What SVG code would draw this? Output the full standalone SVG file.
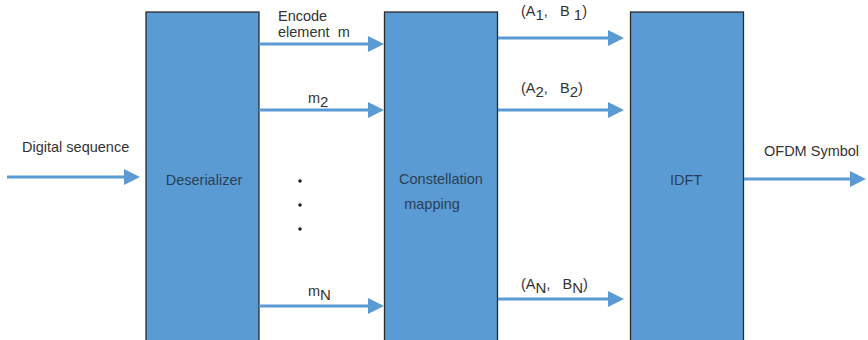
<svg xmlns="http://www.w3.org/2000/svg" width="868" height="340" viewBox="0 0 868 340">
<defs>
<style>
.box{fill:#5b9bd3;stroke:#2b2b2b;stroke-width:1.3}
.t{font-family:"Liberation Sans",Arial,sans-serif;font-size:14.5px;fill:#333;white-space:pre}
.b{font-family:"Liberation Sans",Arial,sans-serif;font-size:14.5px;fill:#2a3f55}
.ln{stroke:#5b9bd3;stroke-width:3;fill:none}
.hd{fill:#5b9bd3}
.s{font-size:15px}
</style>
</defs>
<rect width="868" height="340" fill="#fff"/>
<g id="deserializer">
<rect class="box" x="146" y="12" width="113" height="340"/>
<text class="b" x="204" y="185" text-anchor="middle">Deserializer</text>
</g>
<g id="constellation">
<rect class="box" x="384.5" y="12" width="113" height="340"/>
<text class="b" x="441" y="184" text-anchor="middle">Constellation</text>
<text class="b" x="432" y="209" text-anchor="middle">mapping</text>
</g>
<g id="idft">
<rect class="box" x="630.5" y="12" width="113" height="340"/>
<text class="b" x="686" y="185" text-anchor="middle">IDFT</text>
</g>
<g id="connectors">
<line class="ln" x1="7" y1="177" x2="126" y2="177"/><polygon class="hd" points="124,169 140,177 124,185"/>
<line class="ln" x1="259" y1="44" x2="370" y2="44"/><polygon class="hd" points="368,36 384,44 368,52"/>
<line class="ln" x1="259" y1="110" x2="370" y2="110"/><polygon class="hd" points="368,102 384,110 368,118"/>
<line class="ln" x1="259" y1="306" x2="370" y2="306"/><polygon class="hd" points="368,298 384,306 368,314"/>
<line class="ln" x1="498" y1="38" x2="610" y2="38"/><polygon class="hd" points="608,30 624,38 608,46"/>
<line class="ln" x1="498" y1="110" x2="610" y2="110"/><polygon class="hd" points="608,102 624,110 608,118"/>
<line class="ln" x1="498" y1="299" x2="610" y2="299"/><polygon class="hd" points="608,291 624,299 608,307"/>
<line class="ln" x1="744" y1="179" x2="852" y2="179"/><polygon class="hd" points="850,171 866,179 850,187"/>
</g>
<g id="labels">
<text class="t" x="22" y="152">Digital sequence</text>
<text class="t" x="764" y="156">OFDM Symbol</text>
<text class="t" x="278" y="21">Encode</text>
<text class="t" x="278" y="37">element  m</text>
<text class="t" x="308" y="103">m<tspan class="s" dy="4">2</tspan></text>
<text class="t" x="308" y="296">m<tspan class="s" dy="4">N</tspan></text>
<text class="t" x="521" y="16">(A<tspan class="s" dy="4">1</tspan><tspan dy="-4">,   B</tspan><tspan class="s" dy="4"> 1</tspan><tspan dy="-4">)</tspan></text>
<text class="t" x="521" y="93">(A<tspan class="s" dy="4">2</tspan><tspan dy="-4">,   B</tspan><tspan class="s" dy="4">2</tspan><tspan dy="-4">)</tspan></text>
<text class="t" x="521" y="289">(A<tspan class="s" dy="4">N</tspan><tspan dy="-4">,   B</tspan><tspan class="s" dy="4">N</tspan><tspan dy="-4">)</tspan></text>
<circle cx="300" cy="181" r="1.8" fill="#222"/>
<circle cx="300" cy="205" r="1.8" fill="#222"/>
<circle cx="300" cy="229" r="1.8" fill="#222"/>
</g>
</svg>
